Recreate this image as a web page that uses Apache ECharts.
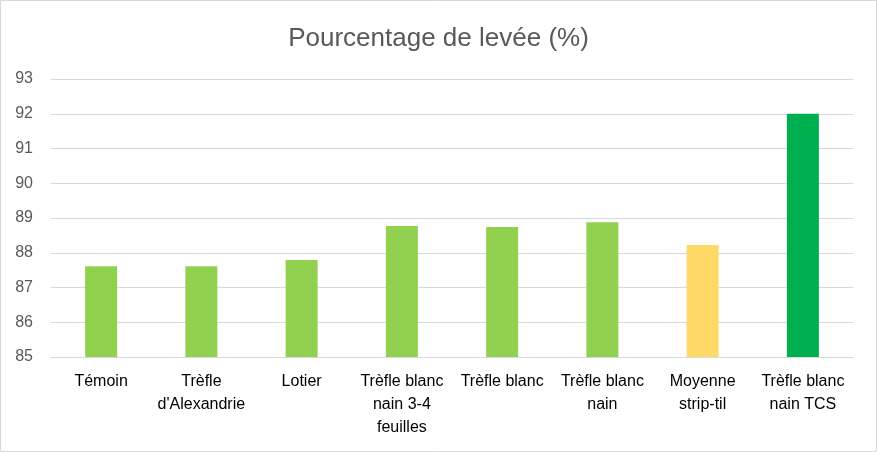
<!DOCTYPE html>
<html><head><meta charset="utf-8">
<script src="https://cdn.jsdelivr.net/npm/echarts@6/dist/echarts.min.js"></script>
<style>html,body{margin:0;padding:0;background:#fff}#c{width:877px;height:452px}</style>
</head><body><div id="c"></div>
<script>
const categories = ["Témoin", "Trèfle\nd'Alexandrie", "Lotier", "Trèfle blanc\nnain 3-4\nfeuilles", "Trèfle blanc", "Trèfle blanc\nnain", "Moyenne\nstrip-til", "Trèfle blanc\nnain TCS"];
const values = [87.61, 87.61, 87.79, 88.77, 88.74, 88.88, 88.22, 92.0];
const barColors = ["#92D050", "#92D050", "#92D050", "#92D050", "#92D050", "#92D050", "#FFD966", "#00B050"];
const yTicks = [85, 86, 87, 88, 89, 90, 91, 92, 93];

const chart = echarts.init(document.getElementById('c'), null, {renderer: 'canvas'});
const font = 'Liberation Sans, Arial, sans-serif';
chart.setOption({
  animation: false,
  backgroundColor: '#fff',
  graphic: [{type: 'rect', shape: {x: 0.5, y: 0.5, width: 876, height: 451}, style: {fill: 'none', stroke: '#d9d9d9', lineWidth: 1}, silent: true}],
  title: {text: 'Pourcentage de levée (%)', left: 'center', top: 21, textStyle: {fontFamily: font, fontSize: 26, fontWeight: 'normal', color: '#595959'}},
  grid: {left: 51, right: 24, top: 79, bottom: 95, containLabel: false},
  xAxis: {type: 'category', data: categories,
    axisLine: {lineStyle: {color: '#d9d9d9'}}, axisTick: {show: false},
    axisLabel: {interval: 0, color: '#000', fontFamily: font, fontSize: 16, lineHeight: 23, margin: 13}},
  yAxis: {type: 'value', min: yTicks[0], max: yTicks[yTicks.length - 1], interval: 1,
    axisLine: {show: false}, axisTick: {show: false},
    splitLine: {lineStyle: {color: '#d9d9d9', width: 1}},
    axisLabel: {color: '#595959', fontFamily: font, fontSize: 16, margin: 18}},
  series: [{type: 'bar', barWidth: 32,
    data: values.map((v, i) => ({value: v, itemStyle: {color: barColors[i]}}))}]
});
</script></body></html>
